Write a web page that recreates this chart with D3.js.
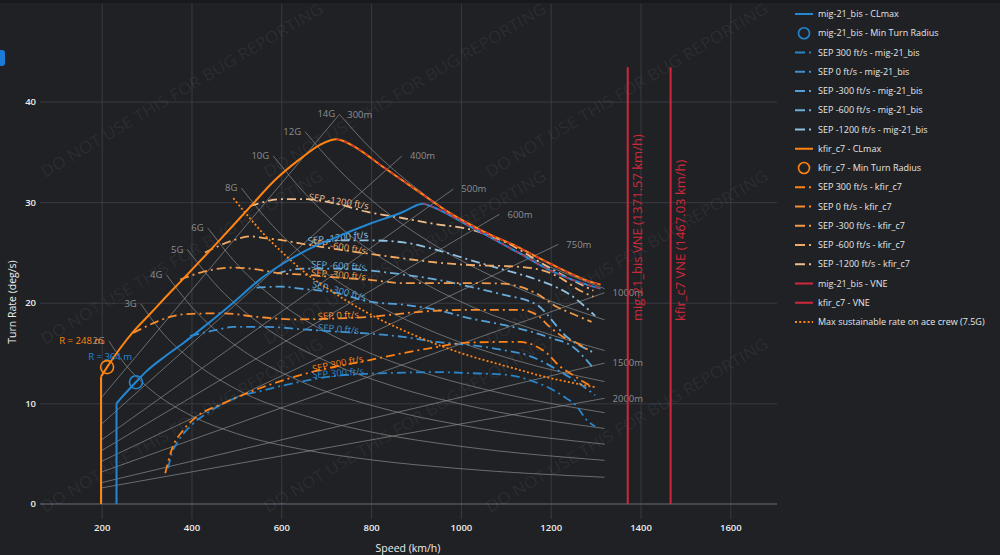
<!doctype html>
<html>
<head>
<meta charset="utf-8">
<title>Turn rate diagram</title>
<script src="https://d3js.org/d3.v7.min.js"></script>
<style>
body { margin: 0; background: #1f2125; }
svg { display: block; font-family: "Open Sans", sans-serif; }
</style>
</head>
<body>
<svg width="1000" height="555"></svg>
<script>
// ---- data ----
var speedTicks = [200, 400, 600, 800, 1000, 1200, 1400, 1600];
var rateTicks = [0, 10, 20, 30, 40];

var gLabels = ["2G", "3G", "4G", "5G", "6G", "8G", "10G", "12G", "14G"];
var gCurves = [
    [[216, 16.2], [250, 14.0], [300, 11.7], [400, 8.76], [500, 7.0], [650, 5.39], [800, 4.38], [1000, 3.5], [1320, 2.65]],
    [[287, 19.9], [330, 17.3], [400, 14.3], [500, 11.4], [650, 8.8], [800, 7.15], [1000, 5.72], [1320, 4.33]],
    [[344, 22.8], [400, 19.6], [500, 15.7], [650, 12.05], [800, 9.8], [1000, 7.83], [1320, 5.94]],
    [[391, 25.3], [450, 22.0], [550, 18.0], [700, 14.2], [850, 11.7], [1050, 9.44], [1320, 7.5]],
    [[436, 27.45], [500, 23.9], [600, 19.9], [750, 15.95], [900, 13.3], [1100, 10.9], [1320, 9.07]],
    [[511, 31.4], [580, 27.7], [680, 23.6], [800, 20.1], [950, 16.9], [1120, 14.3], [1320, 12.16]],
    [[582, 34.6], [650, 31.0], [750, 26.8], [880, 22.9], [1030, 19.5], [1180, 17.1], [1320, 15.25]],
    [[653, 37.0], [720, 33.6], [820, 29.5], [950, 25.5], [1100, 22.0], [1320, 18.3]],
    [[729, 38.75], [800, 35.3], [900, 31.4], [1020, 27.7], [1160, 24.35], [1320, 21.4]]
];

var radiusLabels = ["300m", "400m", "500m", "600m", "750m", "1000m", "1500m", "2000m"];
var radiusLines = [
    [[200, 10.6], [729, 38.7]],
    [[200, 7.96], [869, 34.6]],
    [[200, 6.37], [983, 31.3]],
    [[200, 5.31], [1086, 28.8]],
    [[200, 4.24], [1217, 25.8]],
    [[200, 3.18], [1320, 21.0]],
    [[200, 2.12], [1320, 14.0]],
    [[200, 1.59], [1320, 10.5]]
];

var migCLmax = [[233, 0], [233, 10.0], [255, 11.1], [276, 12.1], [300, 13.2], [345, 14.8], [382, 16.0], [419, 17.3],
    [493, 20.0], [552, 22.3], [604, 23.9], [660, 25.3], [716, 26.4], [800, 27.9], [872, 29.05], [905, 29.75],
    [915, 29.85], [927, 29.7], [1020, 27.6], [1131, 24.9], [1200, 23.2], [1295, 21.6], [1311, 21.4]];
var kfirCLmax = [[198.5, 0], [198.5, 12.65], [212, 13.6], [240, 15.4], [270, 17.1], [308, 18.9], [337, 20.3],
    [382, 22.4], [456, 25.9], [530, 29.5], [586, 32.2], [642, 34.3], [686, 35.7], [710, 36.15], [723, 36.25],
    [740, 36.05], [760, 35.6], [827, 33.5], [901, 31.2], [976, 28.9], [1050, 27.1], [1124, 25.6], [1198, 23.9],
    [1295, 22.0], [1311, 21.8]];

var sepValues = [300, 0, -300, -600, -1200];
var migSEP = [
    [[348, 3.55], [356, 5.0], [367, 6.0], [397, 7.7], [441, 9.2], [508, 10.7], [552, 11.2], [627, 12.0], [716, 12.7],
        [797, 12.95], [872, 13.05], [950, 13.1], [1020, 13.0], [1109, 12.8], [1153, 12.3], [1198, 11.5], [1228, 10.7],
        [1258, 9.7], [1280, 8.35], [1299, 7.7]],
    [[397, 16.7], [456, 17.3], [493, 17.6], [567, 17.6], [650, 17.35], [731, 17.1], [790, 16.95], [872, 16.6],
        [946, 16.1], [1020, 15.8], [1094, 15.3], [1147, 14.8], [1184, 14.1], [1221, 13.15], [1258, 12.15], [1299, 10.8]],
    [[545, 21.5], [600, 21.6], [642, 21.4], [720, 21.0], [797, 20.1], [872, 19.8], [946, 19.3], [1020, 18.45],
        [1094, 17.8], [1150, 17.2], [1200, 16.5], [1250, 15.6], [1295, 13.5]],
    [[590, 22.9], [650, 23.4], [724, 23.4], [797, 23.2], [872, 22.8], [946, 22.3], [1020, 21.6], [1094, 20.8],
        [1169, 19.8], [1236, 16.6], [1299, 15.0]],
    [[690, 26.0], [730, 26.2], [797, 26.2], [872, 26.0], [946, 25.25], [1020, 24.25], [1094, 23.3], [1169, 22.3],
        [1243, 20.8], [1299, 18.7]]
];
var kfirSEP = [
    [[341.5, 3.05], [356, 5.4], [382, 7.35], [412, 8.7], [471, 10.0], [552, 11.5], [671, 13.15], [797, 14.3],
        [872, 15.0], [946, 15.6], [1005, 16.0], [1080, 16.1], [1131, 16.1], [1161, 15.8], [1191, 15.0], [1221, 13.65],
        [1243, 13.0], [1273, 12.15], [1291, 11.7]],
    [[270, 17.0], [322, 18.1], [352, 18.6], [400, 18.9], [471, 18.95], [545, 18.6], [627, 18.35], [700, 18.4],
        [797, 18.6], [909, 19.1], [1020, 19.3], [1131, 19.3], [1169, 18.8], [1198, 17.6], [1228, 16.6], [1258, 16.0],
        [1291, 15.1]],
    [[375, 22.3], [420, 23.0], [493, 23.5], [530, 23.4], [604, 22.9], [649, 22.8], [727, 22.5], [790, 22.3],
        [872, 21.95], [946, 21.95], [1020, 21.95], [1094, 21.9], [1131, 21.6], [1169, 20.9], [1213, 19.6],
        [1243, 19.0], [1291, 18.1]],
    [[430, 25.0], [493, 26.2], [530, 26.6], [567, 26.4], [604, 26.2], [642, 25.9], [727, 25.3], [790, 24.9],
        [872, 24.4], [946, 24.0], [1020, 23.75], [1094, 23.65], [1147, 23.5], [1191, 23.1], [1228, 22.3],
        [1258, 21.4], [1295, 20.6]],
    [[530, 29.6], [604, 30.3], [656, 30.3], [727, 29.8], [790, 29.05], [872, 28.4], [946, 27.8], [1020, 27.3],
        [1100, 26.0], [1200, 23.4], [1295, 21.2]]
];

var migMinTurn = [276.4, 12.1], kfirMinTurn = [212, 13.6];
var minRadiusText = ["R = 364 m", "R = 248 m"];

var aceRate = [[493, 30.4], [530, 28.4], [570, 26.4], [600, 25.1], [650, 23.1], [700, 21.5], [800, 18.8],
    [900, 16.7], [1000, 15.0], [1100, 13.7], [1200, 12.5], [1300, 11.6]];

var vneNames = ["mig-21_bis", "kfir_c7"];
var vneSpeeds = [1371.57, 1467.03];
var vneTop = 43.4;

var legendNames = [
    "mig-21_bis - CLmax", "mig-21_bis - Min Turn Radius",
    "SEP 300 ft/s - mig-21_bis", "SEP 0 ft/s - mig-21_bis", "SEP -300 ft/s - mig-21_bis",
    "SEP -600 ft/s - mig-21_bis", "SEP -1200 ft/s - mig-21_bis",
    "kfir_c7 - CLmax", "kfir_c7 - Min Turn Radius",
    "SEP 300 ft/s - kfir_c7", "SEP 0 ft/s - kfir_c7", "SEP -300 ft/s - kfir_c7",
    "SEP -600 ft/s - kfir_c7", "SEP -1200 ft/s - kfir_c7",
    "mig-21_bis - VNE", "kfir_c7 - VNE", "Max sustainable rate on ace crew (7.5G)"
];

// ---- styles ----
var migColor = "#2387d3", kfirColor = "#ff8411", vneColor = "#d0283a";
var migSepColors = ["#2a84c9", "#3d91d0", "#55a0d6", "#6cadd9", "#92c0e0"];
var kfirSepColors = ["#ff8214", "#f88c2e", "#f39a48", "#f0aa64", "#efbd8c"];
var dashDot = "9,4,2,4";

var svg = d3.select("svg");
var x = d3.scaleLinear().domain([62.6, 1704]).range([40, 777]);
var y = d3.scaleLinear().domain([-1.5, 49.7]).range([519, 4]);
var line = d3.line().x(function(d) { return x(d[0]); }).y(function(d) { return y(d[1]); });
var smooth = d3.line().x(function(d) { return x(d[0]); }).y(function(d) { return y(d[1]); }).curve(d3.curveMonotoneX);

svg.append("rect").attr("width", 1000).attr("height", 555).attr("fill", "#1f2125");
svg.append("rect").attr("width", 1000).attr("height", 3).attr("fill", "#18191c");
svg.append("rect").attr("x", -4).attr("y", 50).attr("width", 9).attr("height", 16).attr("rx", 3).attr("fill", "#1b7bd6");

// grid
svg.append("g").attr("transform", "translate(0,519)")
    .call(d3.axisBottom(x).tickValues(speedTicks).tickSize(-515).tickFormat(""))
    .call(function(g) { g.select(".domain").remove(); g.selectAll("line").attr("stroke", "#383b40"); });
svg.append("g").attr("transform", "translate(40,0)")
    .call(d3.axisLeft(y).tickValues(rateTicks.slice(1)).tickSize(-737).tickFormat(""))
    .call(function(g) { g.select(".domain").remove(); g.selectAll("line").attr("stroke", "#383b40"); });
svg.append("line").attr("x1", 40).attr("x2", 777).attr("y1", y(0)).attr("y2", y(0))
    .attr("stroke", "#52565c").attr("stroke-width", 1.5);

// tick labels
svg.append("g").attr("transform", "translate(0,519)")
    .call(d3.axisBottom(x).tickValues(speedTicks).tickFormat(d3.format("d")).tickSize(0).tickPadding(5))
    .call(function(g) {
        g.select(".domain").remove();
        g.selectAll("text").attr("fill", "#eeeeee").attr("font-size", 9.5).attr("font-family", "Open Sans").attr("font-weight", 600);
    });
svg.append("g").attr("transform", "translate(40,0)")
    .call(d3.axisLeft(y).tickValues(rateTicks).tickFormat(d3.format("d")).tickSize(0).tickPadding(4))
    .call(function(g) {
        g.select(".domain").remove();
        g.selectAll("text").attr("fill", "#eeeeee").attr("font-size", 9.5).attr("font-family", "Open Sans").attr("font-weight", 600);
    });

svg.append("text").attr("x", 408).attr("y", 552).attr("text-anchor", "middle")
    .attr("fill", "#eeeeee").attr("font-size", 10.5).text("Speed (km/h)");
svg.append("text").attr("transform", "translate(16,302) rotate(-90)").attr("text-anchor", "middle")
    .attr("fill", "#eeeeee").attr("font-size", 10.5).text("Turn Rate (deg/s)");

// watermark
var wmX = [45, 268, 490], wmY = [178, 345, 513];
wmY.forEach(function(wy) {
    wmX.forEach(function(wx) {
        svg.append("text").attr("transform", "translate(" + wx + "," + wy + ") rotate(-30.7)")
            .attr("font-size", 16).attr("fill", "rgba(255,255,255,0.065)")
            .attr("textLength", 325).attr("lengthAdjust", "spacingAndGlyphs")
            .text("DO NOT USE THIS FOR BUG REPORTING");
    });
});

// constant G and constant radius guides
var guides = svg.append("g").attr("fill", "none").attr("stroke", "#8a8a8a").attr("stroke-width", 0.9).attr("stroke-opacity", 0.8);
gCurves.forEach(function(c) { guides.append("path").attr("d", smooth(c)); });
radiusLines.forEach(function(c) { guides.append("path").attr("d", line(c)); });
var guideText = svg.append("g").attr("fill", "#8e8e8e").attr("font-size", 9.5);
gCurves.forEach(function(c, i) {
    guideText.append("text").attr("x", x(c[0][0]) - 4).attr("y", y(c[0][1])).attr("dy", "0.35em")
        .attr("text-anchor", "end").text(gLabels[i]);
});
radiusLines.forEach(function(c, i) {
    guideText.append("text").attr("x", x(c[1][0]) + 8).attr("y", y(c[1][1])).attr("dy", "0.35em").text(radiusLabels[i]);
});

// SEP curves with inline labels
function sepLabel(pts, txt, color) {
    var s = 727, k = d3.bisector(function(d) { return d[0]; }).left(pts, s);
    k = Math.max(1, Math.min(pts.length - 1, k));
    var a = pts[k - 1], b = pts[k];
    var t = (s - a[0]) / (b[0] - a[0]);
    var px = x(s), py = y(a[1] + t * (b[1] - a[1]));
    var ang = Math.atan2(y(b[1]) - y(a[1]), x(b[0]) - x(a[0])) * 180 / Math.PI;
    svg.append("text").attr("transform", "translate(" + px + "," + py + ") rotate(" + ang + ")")
        .attr("text-anchor", "middle").attr("dy", 0.5).attr("font-size", 9.5).attr("fill", color).text(txt);
}
migSEP.forEach(function(c, i) {
    svg.append("path").attr("d", smooth(c)).attr("fill", "none").attr("stroke", migSepColors[i])
        .attr("stroke-width", 1.8).attr("stroke-dasharray", dashDot);
});
kfirSEP.forEach(function(c, i) {
    svg.append("path").attr("d", smooth(c)).attr("fill", "none").attr("stroke", kfirSepColors[i])
        .attr("stroke-width", 1.8).attr("stroke-dasharray", dashDot);
});
migSEP.forEach(function(c, i) { sepLabel(c, "SEP " + sepValues[i] + " ft/s", migSepColors[i]); });
kfirSEP.forEach(function(c, i) { sepLabel(c, "SEP " + sepValues[i] + " ft/s", kfirSepColors[i]); });

// ace crew 7.5G sustainable rate
svg.append("path").attr("d", smooth(aceRate)).attr("fill", "none").attr("stroke", kfirColor)
    .attr("stroke-width", 1.8).attr("stroke-dasharray", "2,2.2");

// CLmax curves
svg.append("path").attr("d", line(migCLmax.slice(0, 2))).attr("fill", "none").attr("stroke", migColor).attr("stroke-width", 2);
svg.append("path").attr("d", smooth(migCLmax.slice(1))).attr("fill", "none").attr("stroke", migColor).attr("stroke-width", 2);
svg.append("path").attr("d", line(kfirCLmax.slice(0, 2))).attr("fill", "none").attr("stroke", kfirColor).attr("stroke-width", 2);
svg.append("path").attr("d", smooth(kfirCLmax.slice(1))).attr("fill", "none").attr("stroke", kfirColor).attr("stroke-width", 2);
[migCLmax, kfirCLmax].forEach(function(c) {
    var p = d3.maxIndex(c, function(d) { return d[1]; });
    svg.append("path").attr("d", smooth(c.slice(p))).attr("fill", "none").attr("stroke", vneColor)
        .attr("stroke-width", 1.4).attr("stroke-dasharray", "4,4");
});

// VNE
vneSpeeds.forEach(function(v, i) {
    svg.append("line").attr("x1", x(v)).attr("x2", x(v)).attr("y1", y(0)).attr("y2", y(vneTop))
        .attr("stroke", vneColor).attr("stroke-width", 2);
    svg.append("text").attr("transform", "translate(" + (x(v) + 14) + "," + 321 + ") rotate(-90)")
        .attr("font-size", 13).attr("fill", vneColor)
        .text(vneNames[i] + " VNE (" + v.toFixed(2) + " km/h)");
});

// min turn radius markers
[[migMinTurn, migColor, minRadiusText[0]], [kfirMinTurn, kfirColor, minRadiusText[1]]].forEach(function(m) {
    var cx = x(m[0][0]), cy = y(m[0][1]);
    svg.append("circle").attr("cx", cx).attr("cy", cy).attr("r", 6.5).attr("fill", "none")
        .attr("stroke", m[1]).attr("stroke-width", 1.6);
    svg.append("text").attr("x", cx - 4).attr("y", cy - 26).attr("dy", "0.35em").attr("text-anchor", "end")
        .attr("font-size", 9.5).attr("fill", m[1]).text(m[2]);
});

// legend
var legendColors = [migColor, migColor].concat(migSepColors, [kfirColor, kfirColor], kfirSepColors, [vneColor, vneColor, kfirColor]);
var leg = svg.append("g").attr("font-size", 9).attr("fill", "#e6e6e6");
legendNames.forEach(function(name, i) {
    var ly = 14 + i * 19.25;
    var c = legendColors[i];
    if (i === 1 || i === 8) {
        leg.append("circle").attr("cx", 804).attr("cy", ly).attr("r", 5.5).attr("fill", "none").attr("stroke", c).attr("stroke-width", 1.6);
    } else {
        var l = leg.append("line").attr("x1", 795).attr("x2", 813).attr("y1", ly).attr("y2", ly).attr("stroke", c).attr("stroke-width", 2);
        if ((i >= 2 && i <= 6) || (i >= 9 && i <= 13)) l.attr("stroke-dasharray", "10,4,2,4");
        if (i === 16) l.attr("stroke-dasharray", "2,2.2");
    }
    leg.append("text").attr("x", 818).attr("y", ly).attr("dy", "0.35em").text(name);
});
</script>
</body>
</html>
